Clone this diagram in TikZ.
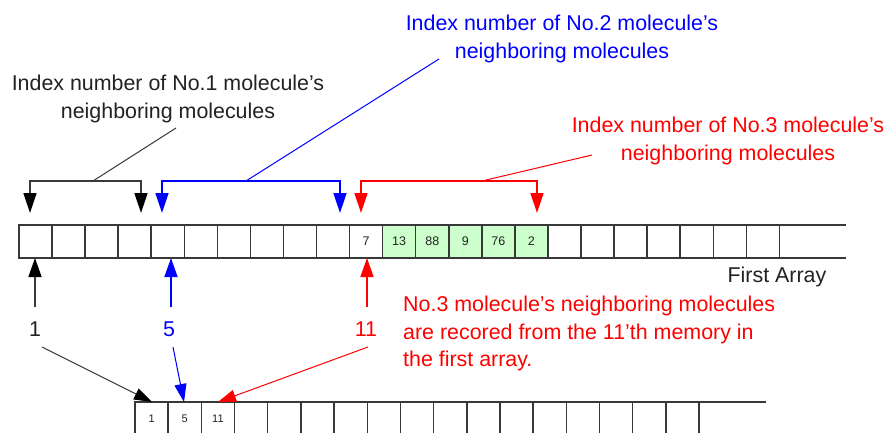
\documentclass[tikz,border=0pt]{standalone}
\usepackage{fontspec}
\setmainfont{Liberation Sans}
\usetikzlibrary{arrows.meta}
\definecolor{bl}{HTML}{0000FF}
\definecolor{rd}{HTML}{FF0000}
\definecolor{gr}{HTML}{CCFFCC}
\definecolor{ln}{HTML}{383838}
\definecolor{tx}{HTML}{222222}
\begin{document}
\begin{tikzpicture}[x=1pt,y=-1pt,
  cell/.style={draw=ln, line width=1.5pt, minimum width=33.06pt, minimum height=33pt,
    inner sep=0pt, outer sep=0pt, anchor=north west, text=tx, font=\fontsize{12.5}{14}\selectfont},
  bcell/.style={cell, minimum width=33.18pt, font=\fontsize{11}{13}\selectfont},
  green/.style={fill=gr},
  lbl/.style={inner sep=0pt, font=\fontsize{21.4}{27.5}\selectfont, align=center},
  brk/.style={line width=1.5pt, {Triangle[width=13pt,length=20pt]}-{Triangle[width=13pt,length=20pt]}},
  bbrk/.style={line width=1.5pt, {Triangle[width=13pt,length=20pt,color=black]}-{Triangle[width=13pt,length=20pt,color=black]}},
  upar/.style={line width=1.5pt, -{Triangle[width=13pt,length=19pt]}},
  bupar/.style={line width=1.5pt, -{Triangle[width=13pt,length=19pt,color=black]}},
  diag/.style={line width=1pt, -{Triangle[width=12pt,length=18pt]}},
  bdiag/.style={line width=1pt, -{Triangle[width=12pt,length=18pt,color=black]}},
  lead/.style={line width=1pt}]
\clip (0,0) rectangle (889,433);
\fill[white] (0,0) rectangle (889,433);

% first array
\foreach \i in {0,...,22} \node[cell] (t\i) at ({19+33.06*\i},225) {};
\node[cell] (t10) at ({19+33.06*10},225) {7};
\node[cell,green] (t11) at ({19+33.06*11},225) {13};
\node[cell,green] (t12) at ({19+33.06*12},225) {88};
\node[cell,green] (t13) at ({19+33.06*13},225) {9};
\node[cell,green] (t14) at ({19+33.06*14},225) {76};
\node[cell,green] (t15) at ({19+33.06*15},225) {2};
\coordinate (tend1) at (846,225);
\coordinate (tend2) at (846,258);
\draw[ln, line width=1.5pt] (t22.north east) -- (tend1);
\draw[ln, line width=1.5pt] (t22.south east) -- (tend2);
\node[lbl, text=tx] (fa) at (777,277) {First Array};

% second array
\foreach \i in {0,...,16} \node[bcell] (b\i) at ({135+33.18*\i},402) {};
\node[bcell] (b0) at (135,402) {1};
\node[bcell] (b1) at ({135+33.18},402) {5};
\node[bcell] (b2) at ({135+2*33.18},402) {11};
\coordinate (bend) at (766,402);
\draw[ln, line width=1.5pt] (b16.north east) -- (bend);

% titles
\node[lbl, text=tx] (ti1) at (168,99) {Index number of No.1 molecule's\\neighboring molecules};
\node[lbl, text=bl] (ti2) at (562,39) {Index number of No.2 molecule's\\neighboring molecules};
\node[lbl, text=rd] (ti3) at (728,141) {Index number of No.3 molecule's\\neighboring molecules};

% brackets
\coordinate (k1a) at (30,213); \coordinate (k1b) at (141,213);
\coordinate (k2a) at (162,213); \coordinate (k2b) at (340,213);
\coordinate (k3a) at (361,213); \coordinate (k3b) at (537,213);
\draw[bbrk, draw=ln] (k1a) -- (30,181) -- (141,181) -- (k1b);
\draw[brk, draw=bl] (k2a) -- (162,181) -- (340,181) -- (k2b);
\draw[brk, draw=rd] (k3a) -- (361,181) -- (537,181) -- (k3b);
\coordinate (m1) at (93,181); \coordinate (e1) at (176,128);
\coordinate (m2) at (246,181); \coordinate (e2) at (439,59);
\coordinate (m3) at (482,181); \coordinate (e3) at (592,155);
\draw[lead, ln] (m1) -- (e1);
\draw[lead, bl] (m2) -- (e2);
\draw[lead, rd] (m3) -- (e3);

% index labels
\node[lbl, text=tx] (n1) at (35,329) {1};
\node[lbl, text=bl] (n5) at (169,329) {5};
\node[lbl, text=rd] (n11) at (366,329) {11};
\coordinate (u1) at (35,258); \coordinate (u5) at (171,258); \coordinate (u11) at (367,258);
\draw[bupar, draw=ln] (35,307) -- (u1);
\draw[upar, draw=bl] (171,307) -- (u5);
\draw[upar, draw=rd] (367,307) -- (u11);
\draw[bdiag, draw=ln] (42,347) -- (152,402);
\draw[diag, draw=bl] (173,347) -- (184,402);
\draw[diag, draw=rd] (368,347) -- (218,402);

% explanation
\node[lbl, text=rd, align=left, anchor=north west] (ex) at (403,296)
  {No.3 molecule's neighboring molecules\\are recored from the 11'th memory in\\the first array.};
\end{tikzpicture}
\end{document}
